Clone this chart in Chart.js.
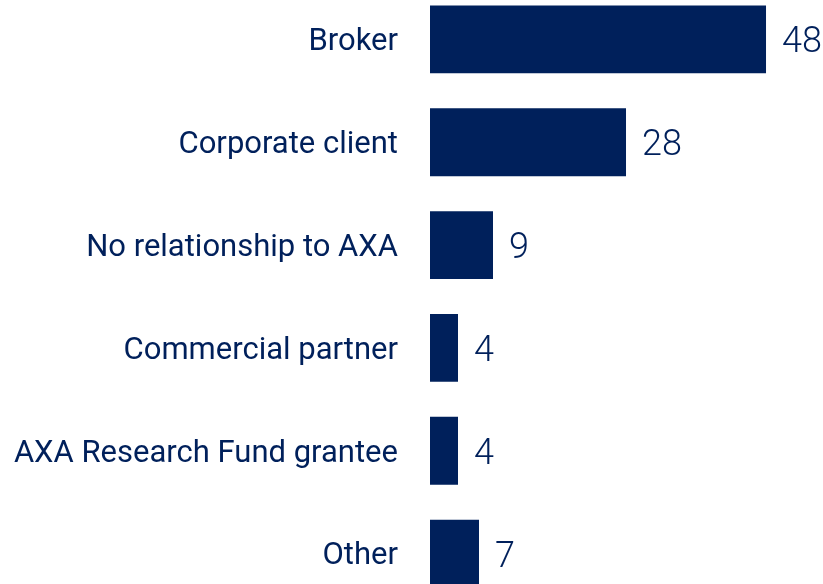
<!DOCTYPE html>
<html>
<head>
<meta charset="utf-8">
<script src="https://cdn.jsdelivr.net/npm/chart.js@4/dist/chart.umd.min.js"></script>
<style>
  html, body { margin: 0; padding: 0; background: #ffffff; overflow: hidden; width: 823px; height: 584px; }
  #c { position: absolute; left: 0; top: -12.4px; }
</style>
</head>
<body>
<canvas id="c" width="823" height="617"></canvas>
<script>
const categories = ["Broker", "Corporate client", "No relationship to AXA", "Commercial partner", "AXA Research Fund grantee", "Other"];
const counts = [48, 28, 9, 4, 4, 7];

const NAVY = "#00205B";

const valueLabels = {
  id: "valueLabels",
  afterDatasetsDraw(chart) {
    const ctx = chart.ctx;
    const meta = chart.getDatasetMeta(0);
    ctx.save();
    ctx.fillStyle = NAVY;
    ctx.font = "300 36px Roboto, 'Open Sans', sans-serif";
    ctx.textAlign = "left";
    ctx.textBaseline = "middle";
    meta.data.forEach((bar, i) => {
      ctx.fillText(String(counts[i]), bar.x + 16, bar.y + 4);
    });
    ctx.restore();
  }
};

// nudge category labels slightly down to sit centred on the bars
const labelNudge = {
  id: "labelNudge",
  afterLayout(chart) {
    const s = chart.scales.y;
    if (s._nudged) return;
    const orig = s.drawLabels;
    s.drawLabels = function (area) {
      this.ctx.save();
      this.ctx.translate(0, 3);
      orig.call(this, area);
      this.ctx.restore();
    };
    s._nudged = true;
  }
};

new Chart(document.getElementById("c"), {
  type: "bar",
  data: {
    labels: categories,
    datasets: [{
      data: counts,
      backgroundColor: NAVY,
      borderWidth: 0,
      categoryPercentage: 1.0,
      barPercentage: 0.66
    }]
  },
  options: {
    indexAxis: "y",
    responsive: false,
    animation: false,
    layout: { padding: 0 },
    plugins: { legend: { display: false }, tooltip: { enabled: false } },
    scales: {
      x: { display: false, min: 0, max: 56.14 },
      y: {
        afterFit(scale) { scale.width = 430; scale.paddingTop = 0; scale.paddingBottom = 0; },
        border: { display: false },
        grid: { display: false, drawTicks: false },
        ticks: {
          padding: 32,
          color: NAVY,
          font: { family: "Roboto, 'Open Sans', sans-serif", size: 31, weight: "400" }
        }
      }
    }
  },
  plugins: [valueLabels, labelNudge]
});
</script>
</body>
</html>
